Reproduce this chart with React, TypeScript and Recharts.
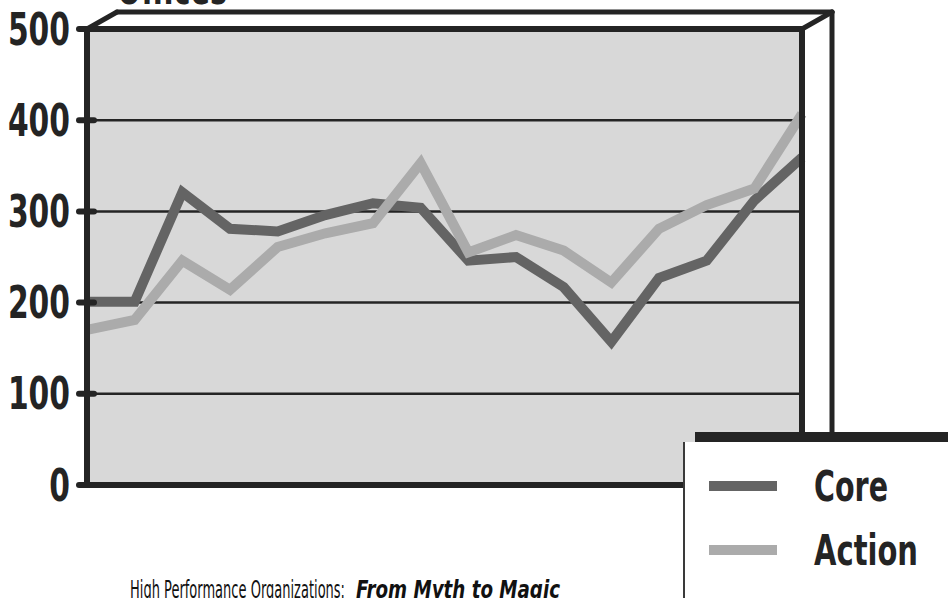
import { LineChart, Line, XAxis, YAxis, CartesianGrid, Legend } from "recharts";

const periods = ["P1", "P2", "P3", "P4", "P5", "P6", "P7", "P8", "P9", "P10", "P11", "P12", "P13", "P14", "P15", "P16"];
const coreValues = [201, 201, 321, 281, 278, 296, 309, 304, 246, 250, 217, 157, 227, 246, 312, 359];
const actionValues = [170, 181, 246, 214, 261, 276, 287, 353, 255, 274, 257, 222, 281, 307, 325, 407];
const yTicks = [0, 100, 200, 300, 400, 500];
const seriesOrder = ["Core", "Action"];

const W = 948;
const H = 598;
// plot box of the front panel; the 3-D back edges are offset by DEPTH
const PLOT = { left: 87, top: 29, right: 802, bottom: 485 };
const DEPTH = { dx: 30, dy: -17 };
const INK = "#242424";
const FONT = '"DejaVu Sans", "Liberation Sans", sans-serif';

const data = periods.map((period, i) => ({
  period,
  core: coreValues[i],
  action: actionValues[i],
}));

// the original uses a condensed face; squeeze glyphs to the measured widths
const DIGIT_W = 20.7;

function YTick({ x, y, payload }: any) {
  const label = String(payload.value);
  return (
    <g>
      <line x1={x - 8} x2={x + 7} y1={y} y2={y} stroke={INK} strokeWidth={6} strokeLinecap="round" />
      <text
        x={x - 17}
        y={y}
        textAnchor="end"
        dominantBaseline="central"
        fontFamily={FONT}
        fontWeight={700}
        fontSize={45}
        fill={INK}
        textLength={label.length * DIGIT_W}
        lengthAdjust="spacingAndGlyphs"
      >
        {label}
      </text>
    </g>
  );
}

const legendWidths: Record<string, number> = { Core: 74, Action: 104 };

function LegendBox({ payload }: any) {
  const items = [...(payload || [])].sort(
    (a: any, b: any) => seriesOrder.indexOf(a.value) - seriesOrder.indexOf(b.value)
  );
  return (
    <svg width={265} height={166} style={{ display: "block" }}>
      <rect x={12} y={0} width={253} height={11} fill={INK} />
      <rect x={0} y={10} width={265} height={156} fill="#fff" />
      <line x1={1} y1={10} x2={1} y2={166} stroke="#3a3a3a" strokeWidth={2} />
      {items.map((item: any, i: number) => {
        const cy = 54 + i * 64;
        return (
          <g key={item.value}>
            <rect x={26} y={cy - 5} width={68} height={10} fill={item.color} />
            <text
              x={131}
              y={cy + 15}
              fontFamily={FONT}
              fontWeight={700}
              fontSize={42}
              fill={INK}
              textLength={legendWidths[item.value]}
              lengthAdjust="spacingAndGlyphs"
            >
              {item.value}
            </text>
          </g>
        );
      })}
    </svg>
  );
}

export default function App() {
  const { left, top, right, bottom } = PLOT;
  const { dx, dy } = DEPTH;
  return (
    <div style={{ position: "absolute", left: 0, top: 0, width: W, height: H, overflow: "hidden", background: "#fff" }}>
      <LineChart
        width={W}
        height={H}
        data={data}
        margin={{ top, right: W - right, bottom: H - bottom, left: 0 }}
      >
        <CartesianGrid vertical={false} fill="#d8d8d8" stroke={INK} strokeWidth={2.5} />
        <XAxis dataKey="period" scale="point" padding={{ left: 0, right: 0 }} hide />
        <YAxis
          width={left}
          domain={[0, 500]}
          ticks={yTicks}
          interval={0}
          tick={<YTick />}
          tickSize={0}
          tickMargin={0}
          axisLine={false}
          tickLine={false}
        />
        <Line
          type="linear"
          dataKey="core"
          name="Core"
          stroke="#646464"
          strokeWidth={10}
          strokeLinejoin="miter"
          dot={false}
          activeDot={false}
          isAnimationActive={false}
        />
        <Line
          type="linear"
          dataKey="action"
          name="Action"
          stroke="#ababab"
          strokeWidth={10}
          strokeLinejoin="miter"
          dot={false}
          activeDot={false}
          isAnimationActive={false}
        />
        <Legend
          layout="horizontal"
          verticalAlign="middle"
          align="center"
          content={<LegendBox />}
          wrapperStyle={{ left: 683, top: 432, width: 265, height: 166, zIndex: 3 }}
        />
      </LineChart>
      <svg
        width={W}
        height={H}
        style={{ position: "absolute", left: 0, top: 0, zIndex: 2, pointerEvents: "none" }}
      >
        <g stroke={INK} strokeWidth={5} fill="none" strokeLinejoin="round" strokeLinecap="round">
          <line x1={left} y1={top} x2={left + dx} y2={top + dy} />
          <line x1={left + dx} y1={top + dy} x2={right + dx} y2={top + dy} />
          <line x1={right} y1={top} x2={right + dx} y2={top + dy} />
          <line x1={right + dx} y1={top + dy} x2={right + dx} y2={bottom + dy} />
        </g>
        <g stroke={INK} strokeWidth={6} strokeLinecap="square">
          <line x1={left} y1={top} x2={right} y2={top} />
          <line x1={right} y1={top} x2={right} y2={bottom} />
          <line x1={left} y1={bottom} x2={right} y2={bottom} />
          <line x1={left} y1={top} x2={left} y2={bottom} />
        </g>
        <text
          x={117}
          y={4}
          fontFamily={FONT}
          fontWeight={700}
          fontSize={45}
          fill={INK}
          textLength={110}
          lengthAdjust="spacingAndGlyphs"
        >
          Offices
        </text>
        <text
          x={130}
          y={598}
          fontFamily={FONT}
          fontSize={24}
          fill="#111"
          textLength={215}
          lengthAdjust="spacingAndGlyphs"
        >
          High Performance Organizations:
        </text>
        <text
          x={356}
          y={598}
          fontFamily={FONT}
          fontSize={24}
          fontWeight={700}
          fontStyle="italic"
          fill="#111"
          textLength={204}
          lengthAdjust="spacingAndGlyphs"
        >
          From Myth to Magic
        </text>
      </svg>
    </div>
  );
}
